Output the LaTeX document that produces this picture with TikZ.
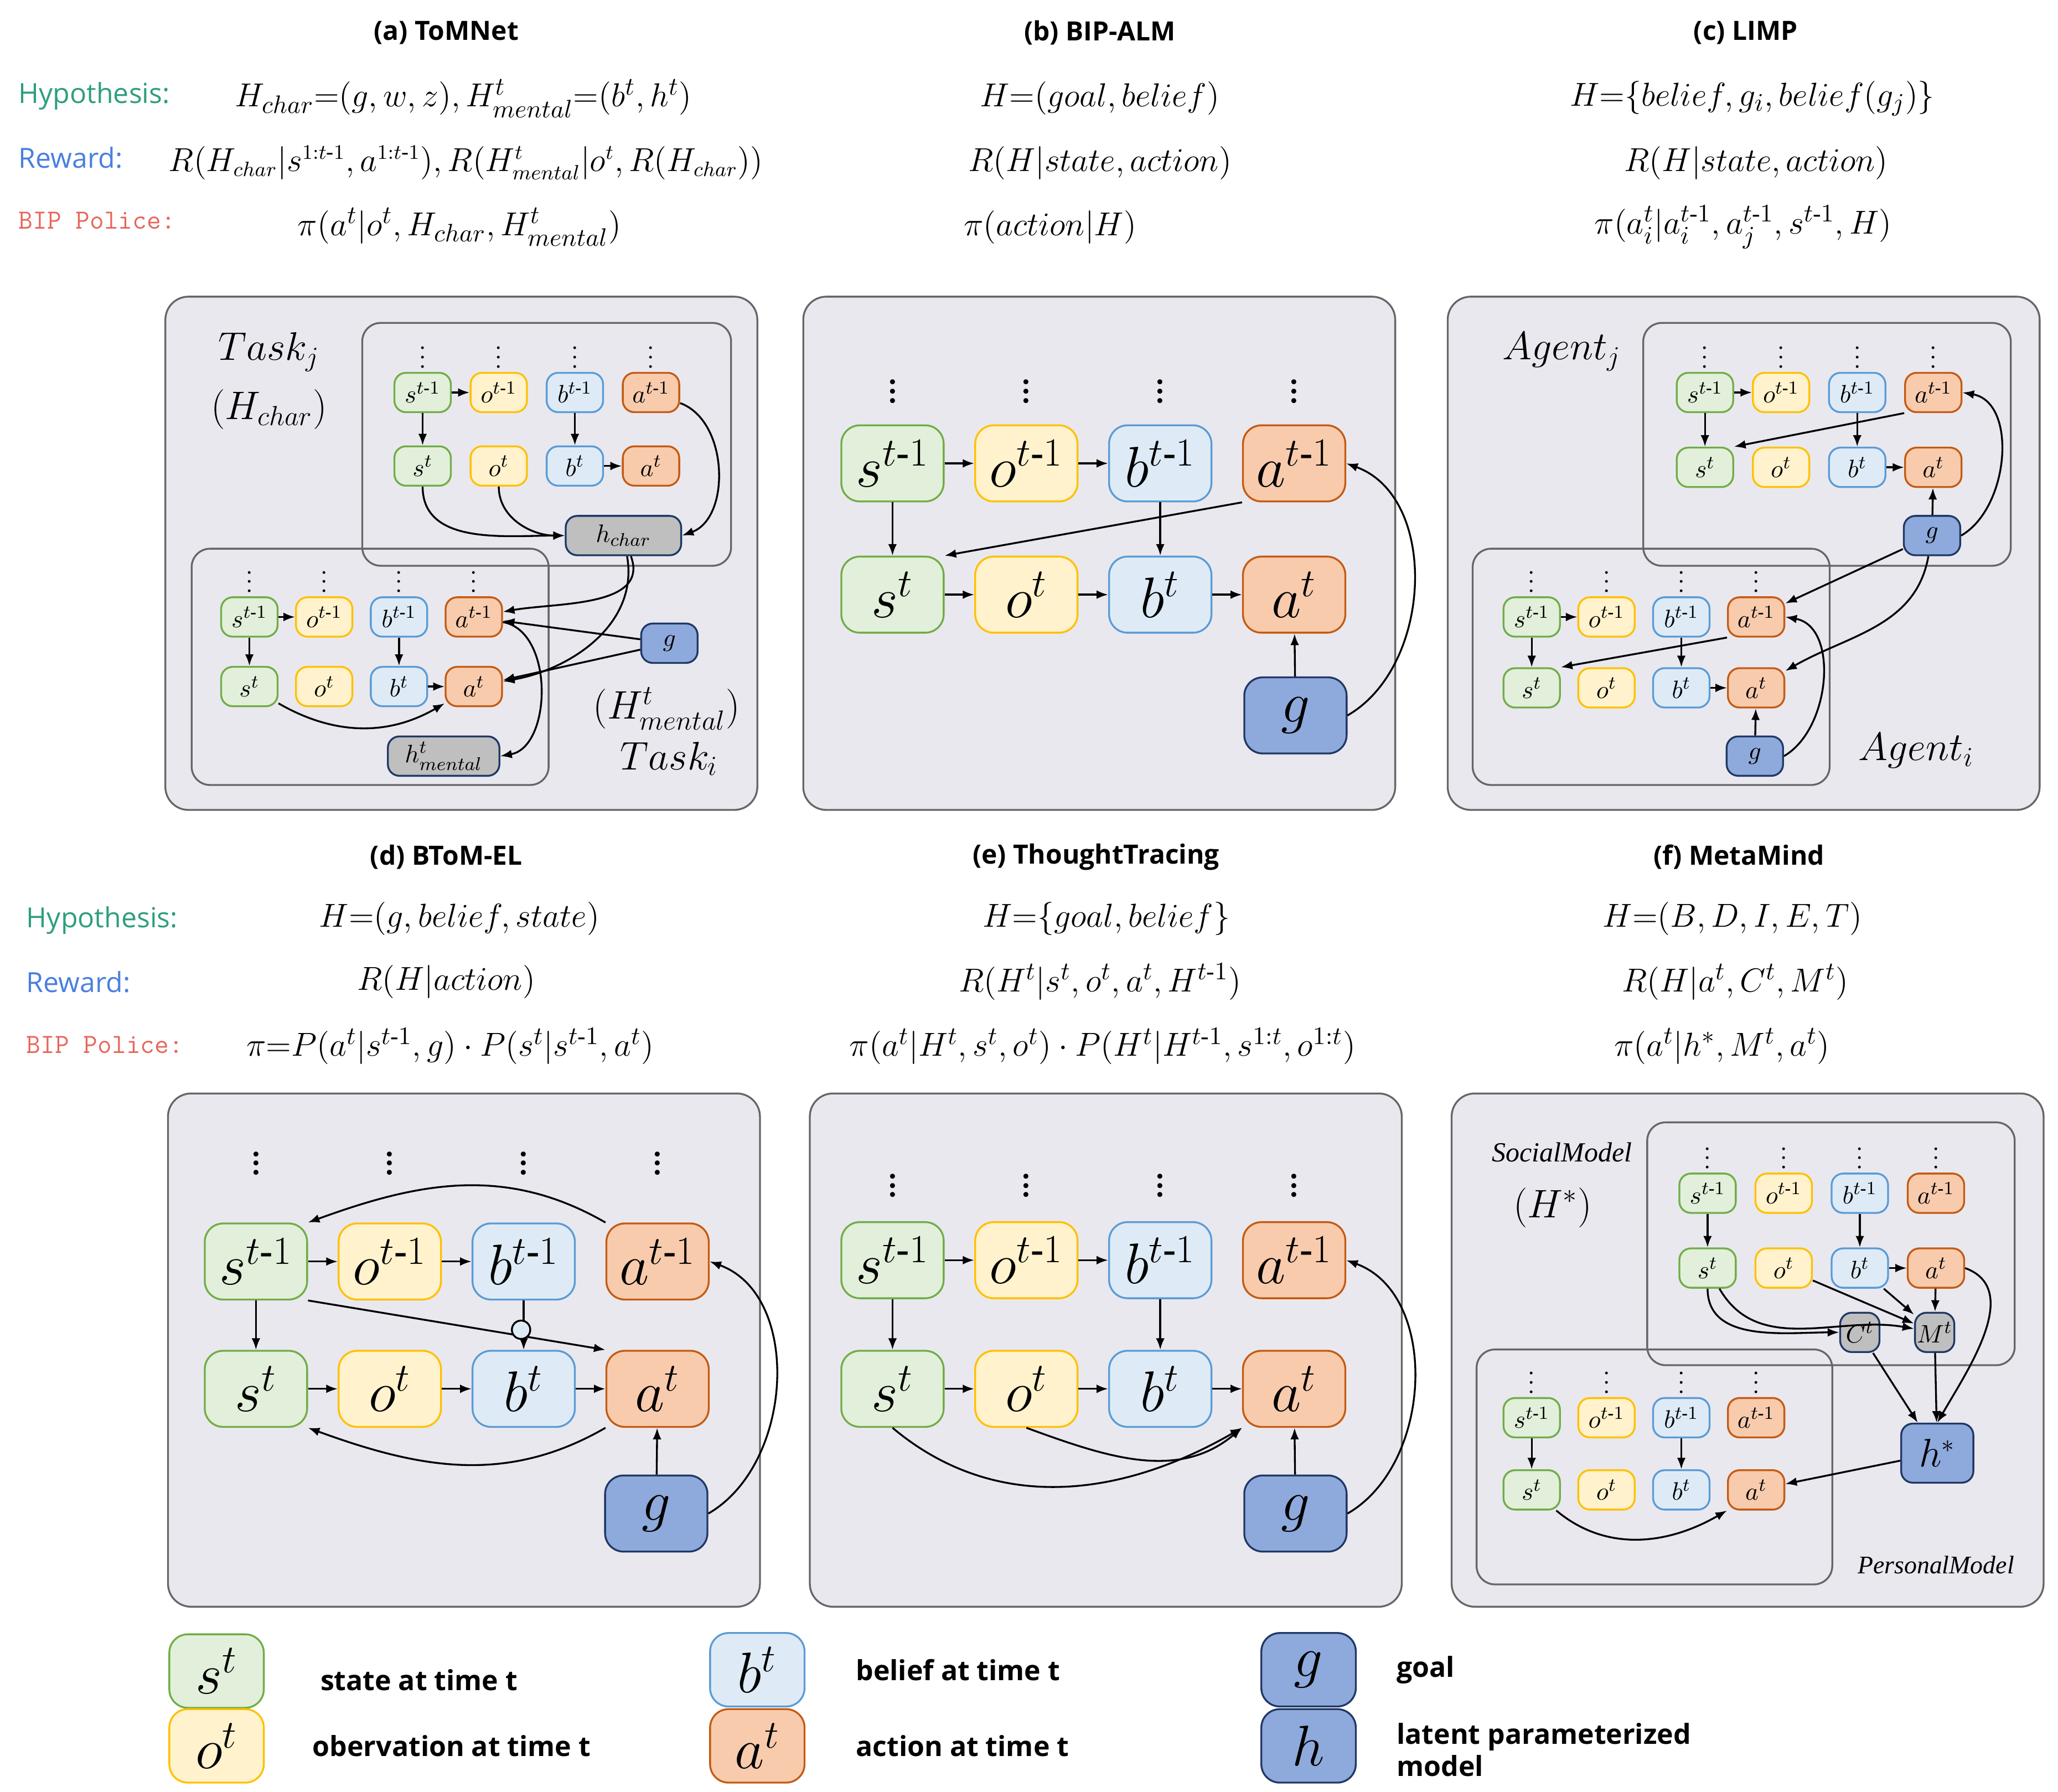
\documentclass[tikz,border=0pt]{standalone}
\usepackage{fontspec}
\usepackage{amsmath}
\setmainfont{Liberation Serif}
\newfontfamily\titlefont{Open Sans}
\usetikzlibrary{arrows.meta, positioning}
\definecolor{stfill}{HTML}{E2EFDA}\definecolor{stdraw}{HTML}{70AD47}
\definecolor{obfill}{HTML}{FFF2CC}\definecolor{obdraw}{HTML}{FFC000}
\definecolor{befill}{HTML}{DEEBF7}\definecolor{bedraw}{HTML}{5B9BD5}
\definecolor{acfill}{HTML}{F8CBAD}\definecolor{acdraw}{HTML}{C55A11}
\definecolor{gofill}{HTML}{8EA9DB}\definecolor{godraw}{HTML}{203864}
\definecolor{panelbg}{HTML}{E9E8EF}
\definecolor{hypcol}{HTML}{2E9E7E}\definecolor{rewcol}{HTML}{4A7FE0}\definecolor{bipcol}{HTML}{E8645A}
\tikzset{
  st/.style={fill=stfill, draw=stdraw}, ob/.style={fill=obfill, draw=obdraw},
  be/.style={fill=befill, draw=bedraw}, ac/.style={fill=acfill, draw=acdraw},
  go/.style={fill=gofill, draw=godraw}, gr/.style={fill=black!25, draw=godraw},
  big/.style={rounded corners=8pt, thick, minimum width=1.56cm, minimum height=1.16cm, inner sep=0pt, font=\fontsize{24}{24}\selectfont\bfseries},
  small/.style={rounded corners=5pt, thick, minimum width=0.86cm, minimum height=0.6cm, inner sep=0pt, font=\fontsize{11}{11}\selectfont\bfseries},
  bigdots/.style={inner sep=0pt, font=\fontsize{18}{18}\selectfont},
  smalldots/.style={inner sep=0pt, font=\fontsize{10}{10}\selectfont},
  leg/.style={big, minimum width=1.44cm, minimum height=1.12cm},
  panel/.style={fill=panelbg, draw=black!60, thick, rounded corners=10pt},
  sub/.style={draw=black!60, thick, rounded corners=8pt},
  arrow/.style={thick, -{Latex[length=5pt]}},
  ttl/.style={font=\titlefont\bfseries\fontsize{11.5}{12}\selectfont},
  frm/.style={font=\fontsize{15}{15}\selectfont},
  lbl/.style={anchor=west, font=\titlefont\fontsize{12}{12}\selectfont},
  legtxt/.style={anchor=west, font=\titlefont\bfseries\fontsize{12}{14}\selectfont, align=left},
  ital/.style={font=\itshape\fontsize{18}{18}\selectfont}
}
% nodes of one network: prefix, size style, x0, y0, dx, dy, dots offset
\newcommand{\netnodes}[7]{%
  \foreach \v/\c [count=\i from 0] in {s/st,o/ob,b/be,a/ac}{
    \node[#2,\c] (#1\v1) at ({#3+\i*#5},#4) {$\v^{t\text{-}1}$};
    \node[#2,\c] (#1\v2) at ({#3+\i*#5},{#4+#6}) {$\v^{t}$};
    \node[#2dots] at ({#3+\i*#5},{#4-#7}) {$\vdots$};
  }}
\begin{document}
\begin{tikzpicture}[x=0.02cm, y=-0.02cm]
\useasboundingbox (0,0) rectangle (1568,1365);
% titles and formulas
\node[ttl] at (340,25) {(a) ToMNet};
\node[ttl] at (838,25) {(b) BIP-ALM};
\node[ttl] at (1330,25) {(c) LIMP};
\node[ttl] at (340,653) {(d) BToM-EL};
\node[ttl] at (835,653) {(e) ThoughtTracing};
\node[ttl] at (1325,653) {(f) MetaMind};
\node[lbl, text=hypcol] at (8,73) {Hypothesis:};
\node[lbl, text=rewcol] at (8,120) {Reward:};
\node[lbl, text=bipcol, font=\ttfamily\fontsize{12}{12}\selectfont] at (8,168) {BIP Police:};
\node[lbl, text=hypcol] at (14,701) {Hypothesis:};
\node[lbl, text=rewcol] at (14,748) {Reward:};
\node[lbl, text=bipcol, font=\ttfamily\fontsize{12}{12}\selectfont] at (14,796) {BIP Police:};
\node[frm] at (353,75) {$H_{char}{=}(g,w,z),H^t_{mental}{=}(b^t,h^t)$};
\node[frm, font=\fontsize{13.5}{14}\selectfont] at (355,124) {$R(H_{char}|s^{1:t\text{-}1},a^{1:t\text{-}1}),R(H^t_{mental}|o^t,R(H_{char}))$};
\node[frm] at (350,173) {$\pi(a^t|o^t,H_{char},H^t_{mental})$};
\node[frm] at (838,75) {$H{=}(goal,belief)$};
\node[frm] at (838,124) {$R(H|state,action)$};
\node[frm] at (800,173) {$\pi(action|H)$};
\node[frm] at (1335,75) {$H{=}\{belief,g_i,belief(g_j)\}$};
\node[frm] at (1338,124) {$R(H|state,action)$};
\node[frm] at (1328,173) {$\pi(a^t_i|a^{t\text{-}1}_i,a^{t\text{-}1}_j,s^{t\text{-}1},H)$};
\node[frm] at (350,700) {$H{=}(g,belief,state)$};
\node[frm] at (340,748) {$R(H|action)$};
\node[frm] at (343,797) {$\pi{=}P(a^t|s^{t\text{-}1},g)\cdot P(s^t|s^{t\text{-}1},a^t)$};
\node[frm] at (843,700) {$H{=}\{goal,belief\}$};
\node[frm] at (838,748) {$R(H^t|s^t,o^t,a^t,H^{t\text{-}1})$};
\node[frm] at (840,797) {$\pi(a^t|H^t,s^t,o^t)\cdot P(H^t|H^{t\text{-}1},s^{1:t},o^{1:t})$};
\node[frm] at (1320,700) {$H{=}(B,D,I,E,T)$};
\node[frm] at (1322,748) {$R(H|a^t,C^t,M^t)$};
\node[frm] at (1312,797) {$\pi(a^t|h^*,M^t,a^t)$};
% panels
\foreach \x/\y in {126/226, 612/226, 1103/226, 128/833, 617/833, 1106/833}
  \draw[panel] (\x,\y) rectangle ++(451,391);
% (a) ToMNet
\draw[sub] (276,246) rectangle (557,431);
\draw[sub] (146,418) rectangle (418,598);
\netnodes{au}{small}{322}{299}{58}{56}{32}
\netnodes{al}{small}{190}{470}{57}{53}{32}
\node[small, gr, minimum width=1.76cm] (hchar) at (475,408) {$h_{char}$};
\node[small, gr, minimum width=1.7cm] (hment) at (338,576) {$h^t_{mental}$};
\node[small, go] (ag) at (510,490) {$g$};
\node[ital] at (205,268) {$Task_j$};
\node[ital] at (205,312) {$(H_{char})$};
\node[ital] at (508,540) {$(H^t_{mental})$};
\node[ital] at (510,578) {$Task_i$};
\foreach \p in {au,al}{
  \draw[arrow] (\p s1) -- (\p o1);
  \draw[arrow] (\p s1) -- (\p s2);
  \draw[arrow] (\p b1) -- (\p b2);
  \draw[arrow] (\p b2) -- (\p a2);}
\draw[arrow] (aus2) to[out=-90, in=180] (hchar);
\draw[arrow] (auo2) to[out=-90, in=180] (hchar);
\draw[arrow] (aua1) to[out=-20, in=20] (hchar.east);
\draw[arrow] (hchar) to[out=-70, in=10] (ala1);
\draw[arrow] (hchar) to[out=-80, in=10] (ala2);
\draw[arrow] (ag) -- (ala1);
\draw[arrow] (ag) -- (ala2);
\draw[arrow] (als2) to[out=-30, in=-150] (ala2);
\draw[arrow] (ala1) to[out=-10, in=10] (hment.east);
% (b) BIP-ALM
\netnodes{b}{big}{680}{353}{102}{100}{60}
\node[big, go] (bg) at (987,545) {$g$};
\draw[arrow] (bs1) -- (bo1); \draw[arrow] (bo1) -- (bb1);
\draw[arrow] (bs2) -- (bo2); \draw[arrow] (bo2) -- (bb2); \draw[arrow] (bb2) -- (ba2);
\draw[arrow] (bs1) -- (bs2); \draw[arrow] (bb1) -- (bb2);
\draw[arrow] (ba1.south west) -- (bs2.north east);
\draw[arrow] (bg) -- (ba2);
\draw[arrow] (bg.east) to[out=30, in=-20] (ba1.east);
% (c) LIMP
\draw[sub] (1252,246) rectangle (1532,431);
\draw[sub] (1122,418) rectangle (1394,598);
\netnodes{cu}{small}{1299}{299}{58}{57}{32}
\netnodes{cl}{small}{1167}{470}{57}{54}{32}
\node[small, go] (cug) at (1472,408) {$g$};
\node[small, go] (clg) at (1337,576) {$g$};
\node[ital] at (1190,268) {$Agent_j$};
\node[ital] at (1460,572) {$Agent_i$};
\foreach \p in {cu,cl}{
  \draw[arrow] (\p s1) -- (\p o1);
  \draw[arrow] (\p s1) -- (\p s2);
  \draw[arrow] (\p b1) -- (\p b2);
  \draw[arrow] (\p b2) -- (\p a2);
  \draw[arrow] (\p a1.south west) -- (\p s2.north east);
  \draw[arrow] (\p g) -- (\p a2);
  \draw[arrow] (\p g.east) to[out=30, in=-10] (\p a1.east);}
\draw[arrow] (cug) -- (cla1);
\draw[arrow] (cug) to[out=-100, in=30] (cla2);
% (d) BToM-EL
\netnodes{d}{big}{195}{961}{102}{97}{80}
\node[big, go] (dg) at (500,1153) {$g$};
\draw[arrow] (ds1) -- (do1); \draw[arrow] (do1) -- (db1);
\draw[arrow] (ds2) -- (do2); \draw[arrow] (do2) -- (db2); \draw[arrow] (db2) -- (da2);
\draw[arrow] (ds1) -- (ds2);
\draw[arrow] (ds1.south east) -- (da2.north west);
\draw[arrow] (db1) -- (db2);
\draw[thick, fill=befill] (397,1013) circle (7);
\draw[arrow] (da1.north west) to[out=150, in=20] (ds1.north east);
\draw[arrow] (da2.south west) to[out=-150, in=-20] (ds2.south east);
\draw[arrow] (dg) -- (da2);
\draw[arrow] (dg.east) to[out=30, in=-20] (da1.east);
% (e) ThoughtTracing
\netnodes{e}{big}{680}{960}{102}{98}{62}
\node[big, go] (eg) at (987,1153) {$g$};
\draw[arrow] (es1) -- (eo1); \draw[arrow] (eo1) -- (eb1);
\draw[arrow] (es2) -- (eo2); \draw[arrow] (eo2) -- (eb2); \draw[arrow] (eb2) -- (ea2);
\draw[arrow] (es1) -- (es2); \draw[arrow] (eb1) -- (eb2);
\draw[arrow] (es2.south) to[out=-40, in=-150] (ea2.south west);
\draw[arrow] (eo2.south) to[out=-20, in=-140] (ea2.south west);
\draw[arrow] (eg) -- (ea2);
\draw[arrow] (eg.east) to[out=30, in=-20] (ea1.east);
% (f) MetaMind
\draw[sub] (1255,855) rectangle (1535,1040);
\draw[sub] (1125,1028) rectangle (1396,1207);
\netnodes{fu}{small}{1301}{909}{58}{57}{32}
\netnodes{fl}{small}{1167}{1080}{57}{55}{32}
\node[small, gr, minimum width=0.6cm] (fC) at (1417,1015) {$C^t$};
\node[small, gr, minimum width=0.6cm] (fM) at (1474,1015) {$M^t$};
\node[small, go, minimum width=1.1cm, minimum height=0.9cm, font=\fontsize{16}{16}\selectfont\bfseries] (fh) at (1476,1107) {$h^*$};
\node[font=\itshape\fontsize{12}{12}\selectfont] at (1190,878) {SocialModel};
\node[ital] at (1183,920) {$(H^*)$};
\node[font=\itshape\fontsize{11}{11}\selectfont] at (1475,1192) {PersonalModel};
\foreach \p in {fu,fl}{
  \draw[arrow] (\p s1) -- (\p s2);
  \draw[arrow] (\p b1) -- (\p b2);}
\draw[arrow] (fub2) -- (fua2);
\draw[arrow] (fus2) to[out=-90, in=180] (fC);
\draw[arrow] (fus2) to[out=-60, in=170] (fM);
\draw[arrow] (fuo2) -- (fM);
\draw[arrow] (fub2) -- (fM);
\draw[arrow] (fua2) -- (fM);
\draw[arrow] (fua2.east) to[out=-20, in=60] (fh.north);
\draw[arrow] (fC) -- (fh);
\draw[arrow] (fM) -- (fh);
\draw[arrow] (fh) -- (fla2);
\draw[arrow] (fls2) to[out=-40, in=-150] (fla2.south west);
% legend
\node[leg, st] (ls) at (165,1273) {$s^t$};
\node[leg, ob] (lo) at (165,1330) {$o^t$};
\node[leg, be] (lb) at (577,1272) {$b^t$};
\node[leg, ac] (la) at (577,1330) {$a^t$};
\node[leg, go] (lg) at (997,1272) {$g$};
\node[leg, go] (lh) at (997,1330) {$h$};
\node[legtxt] at (238,1280) {state at time t};
\node[legtxt] at (232,1330) {obervation at time t};
\node[legtxt] at (646,1272) {belief at time t};
\node[legtxt] at (646,1330) {action at time t};
\node[legtxt] at (1058,1272) {goal};
\node[legtxt] at (1058,1333) {latent parameterized\\model};
\end{tikzpicture}
\end{document}
